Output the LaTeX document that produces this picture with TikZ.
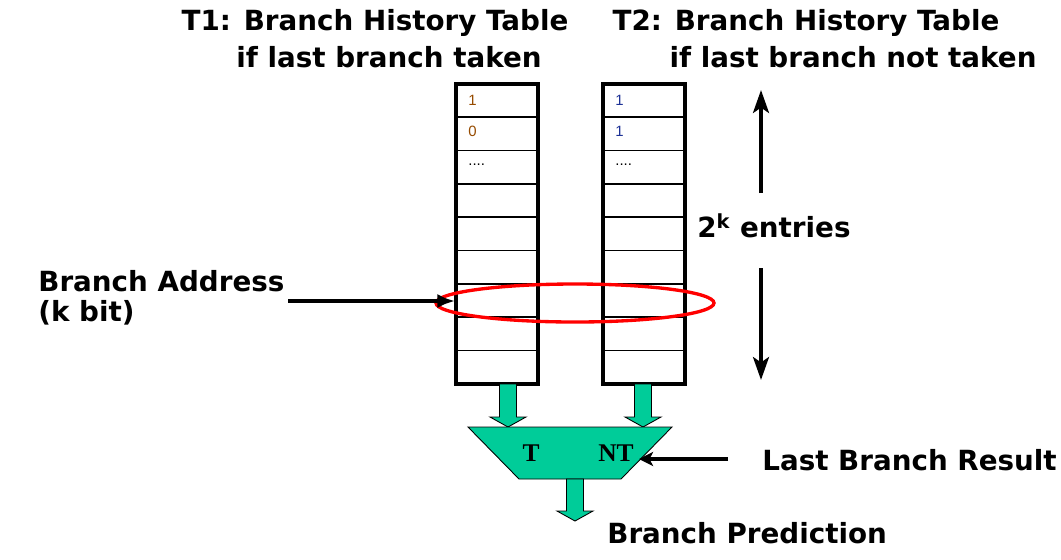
\documentclass[tikz,border=0pt]{standalone}
\usepackage{fontspec}
\setmainfont{DejaVu Sans}
\newfontfamily\muxfont{Liberation Serif}
\newfontfamily\cellfont{Liberation Sans}
\usetikzlibrary{arrows.meta}

\definecolor{muxgreen}{RGB}{0,204,153}
\definecolor{cellbrown}{RGB}{150,75,0}
\definecolor{cellblue}{RGB}{30,50,150}

\tikzset{
  heading/.style={font=\bfseries\fontsize{15.8}{19}\selectfont, inner sep=0pt},
  celltext/.style={font=\cellfont\fontsize{8.5}{10}\selectfont, anchor=west, inner sep=0pt},
  blockarrow/.style={fill=muxgreen, draw=black, line width=0.5pt},
  fatline/.style={line width=2.3pt},
}

% downward block arrow: centre x, top y, tip y
\newcommand{\downblock}[3]{%
  \filldraw[blockarrow] (#1-8.5,#2) -- (#1+8.5,#2) -- (#1+8.5,#3-10) -- (#1+18,#3-10)
    -- (#1,#3) -- (#1-18,#3-10) -- (#1-8.5,#3-10) -- cycle;}

\begin{document}
\begin{tikzpicture}[x=0.02cm, y=-0.02cm]

    \useasboundingbox (0,0) rectangle (1061,559);

    % Table titles
    \node[heading] (t1a) at (375,23) {T1: Branch History Table};
    \node[heading] (t1b) at (389,57) {if last branch taken};
    \node[heading] (t2a) at (806,23) {T2: Branch History Table};
    \node[heading] (t2b) at (853,57) {if last branch not taken};

    % The two tables
    \foreach \xl in {456, 603} {
        \foreach \i in {1,...,8} {
            \draw[line width=1pt] (\xl,84+33.3*\i) -- (\xl+82,84+33.3*\i);
        }
        \draw[line width=1.8pt] (\xl,84) rectangle (\xl+82,384);
    }

    % Entries
    \node[celltext, text=cellbrown] (a1) at (468,100) {1};
    \node[celltext, text=cellbrown] (a2) at (468,131) {0};
    \node[celltext] (a3) at (468,165) {....};
    \node[celltext, text=cellblue] (b1) at (615,100) {1};
    \node[celltext, text=cellblue] (b2) at (615,131) {1};
    \node[celltext] (b3) at (615,165) {....};

    % Selected row
    \draw[red, line width=1.9pt] (575,303) ellipse (139 and 19);

    % Branch address input
    \node[heading, anchor=west] (addr) at (38,281) {Branch Address};
    \node[heading, anchor=west] (kbit) at (38,313) {(k bit)};
    \coordinate (addrfrom) at (288,301);
    \coordinate (addrto) at (455,301);
    \draw[fatline, -{Latex[length=10pt,width=8pt]}] (addrfrom) -- (addrto);

    % Number of entries
    \node[heading, anchor=west] (entries) at (697,226) {2\textsuperscript{k} entries};
    \coordinate (uptop) at (761,90);
    \coordinate (upbot) at (761,193);
    \coordinate (dntop) at (761,268);
    \coordinate (dnbot) at (761,380);
    \draw[fatline, -{Stealth[length=13pt,width=9pt,inset=3pt]}] (upbot) -- (uptop);
    \draw[fatline, -{Stealth[length=13pt,width=9pt,inset=3pt]}] (dntop) -- (dnbot);

    % Table outputs into the mux
    \downblock{508}{384}{427}
    \downblock{643}{384}{427}

    % Mux
    \filldraw[blockarrow] (468,427) -- (672,427) -- (621,479) -- (519,479) -- cycle;
    \node[font=\muxfont\bfseries\fontsize{14.5}{17}\selectfont] (selT) at (531,453) {T};
    \node[font=\muxfont\bfseries\fontsize{14.5}{17}\selectfont] (selNT) at (616,453) {NT};

    % Select input
    \node[heading, anchor=west] (lastres) at (762,460) {Last Branch Result};
    \coordinate (selfrom) at (728,459);
    \coordinate (selto) at (639,459);
    \draw[fatline, -{Stealth[length=8pt,width=8pt,inset=2pt]}] (selfrom) -- (selto);

    % Output
    \downblock{575}{479}{521}
    \node[heading, anchor=west] (pred) at (607,533) {Branch Prediction};

\end{tikzpicture}
\end{document}
